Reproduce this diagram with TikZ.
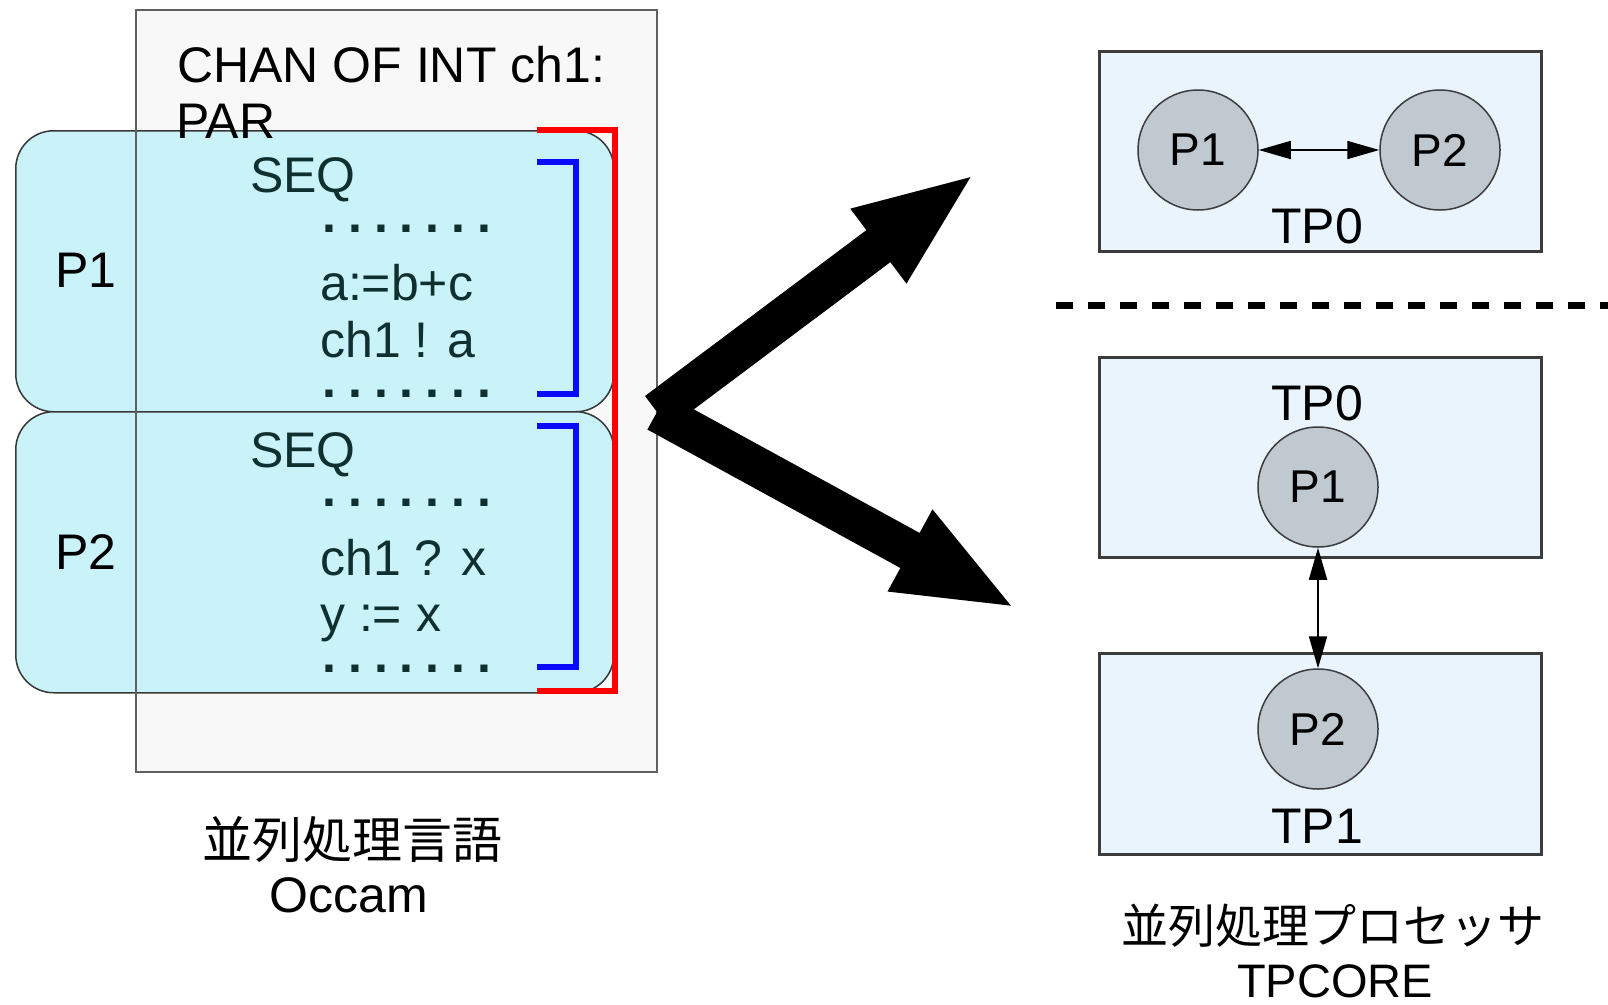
\documentclass[tikz,border=0pt]{standalone}
\usepackage{fontspec}
\setmainfont{Liberation Sans}
\newfontfamily\cjk{Noto Sans CJK JP}
\usetikzlibrary{arrows.meta}

\definecolor{occfill}{RGB}{248,248,248}
\definecolor{occline}{RGB}{96,96,96}
\definecolor{cyanfill}{RGB}{201,242,249}
\definecolor{boxline}{RGB}{56,56,56}
\definecolor{tpfill}{RGB}{234,244,253}
\definecolor{tpline}{RGB}{60,60,60}
\definecolor{circfill}{RGB}{192,200,208}
\definecolor{circline}{RGB}{60,60,60}
\definecolor{codetext}{RGB}{16,48,48}
\definecolor{parred}{RGB}{255,0,0}
\definecolor{seqblue}{RGB}{10,10,255}

% one cell of a row of bold dots
\newcommand\dotcell{\makebox[25.9pt][l]{\bfseries.}}
\newcommand\dotrow{\dotcell\dotcell\dotcell\dotcell\dotcell\dotcell{\bfseries.}}

\begin{document}
\begin{tikzpicture}[x=1pt,y=-1pt,
  occbox/.style={fill=occfill, minimum width=521pt, minimum height=762pt,
    anchor=north west, inner sep=0pt},
  procbox/.style={draw=boxline, line width=1.5pt, fill=cyanfill,
    rounded corners=38pt, minimum width=598pt, minimum height=281pt,
    anchor=north west, inner sep=0pt},
  tpbox/.style={draw=tpline, line width=2.5pt, fill=tpfill,
    minimum width=442pt, minimum height=200pt, anchor=north west, inner sep=0pt},
  proc/.style={circle, draw=circline, line width=1.5pt, fill=circfill,
    minimum size=120pt, inner sep=0pt, font=\fontsize{46}{52}\selectfont},
  lbl/.style={inner sep=0pt, font=\fontsize{50}{60}\selectfont},
  code/.style={lbl, anchor=base west, text=codetext},
  head/.style={lbl, anchor=base west},
  cjklbl/.style={inner sep=0pt, anchor=base, font=\cjk\fontsize{47}{56}\selectfont},
  bracket/.style={line width=6.5pt, miter limit=10},
  bigarrow/.style={line width=40pt, line cap=butt,
    -{Triangle[length=122pt,width=83pt]}},
  link/.style={line width=1.8pt,
    {Triangle[length=32pt,width=18pt]}-{Triangle[length=32pt,width=18pt]}},
  dashline/.style={line width=7pt, dash pattern=on 17pt off 15pt}
]
\useasboundingbox (0,0) rectangle (1608,1004);
\fill[white] (0,0) rectangle (1608,1004);

% ---- Occam program ----
\node[occbox] (occ) at (136,10) {};
\node[procbox] (p1box) at (15,130) {};
\node[procbox] (p2box) at (15,411) {};
\draw[occline, line width=2pt] (occ.north west) rectangle (occ.south east);

% PAR bracket and SEQ brackets
\draw[bracket, parred] (537,130) -- (615,130) -- (615,691) -- (537,691);
\draw[bracket, seqblue, line width=6pt] (537,162) -- (576,162) -- (576,394) -- (537,394);
\draw[bracket, seqblue, line width=6pt] (537,426) -- (576,426) -- (576,667) -- (537,667);

\node[head] (chan) at (177,82) {CHAN OF INT ch1:};
\node[head] (par) at (176,138) {PAR};

\node[code] (seqA) at (250,192) {SEQ};
\node[code] (dotsA1) at (322,232.5) {\dotrow};
\node[code] (asg) at (320,300) {a:=b+c};
\node[code] (send) at (320,357) {ch1 ! a};
\node[code] (dotsA2) at (322,397.5) {\dotrow};
\node[head] (labP1) at (55,287) {P1};

\node[code] (seqB) at (250,467) {SEQ};
\node[code] (dotsB1) at (322,506.5) {\dotrow};
\node[code] (recv) at (320,575) {ch1 ? x};
\node[code] (asgy) at (320,631) {y := x};
\node[code] (dotsB2) at (322,672.5) {\dotrow};
\node[head] (labP2) at (55,569) {P2};

\node[cjklbl, font=\cjk\fontsize{50}{58}\selectfont] (capL1) at (352,858) {並列処理言語};
\node[lbl, anchor=base] (capL2) at (349,912) {Occam};

% ---- mapping arrows ----
\coordinate (fork) at (657,412);
\coordinate (tipA) at (976,173);
\coordinate (tipB) at (1017,609);
\draw[bigarrow] (fork) -- (tipA);
\draw[bigarrow] (fork) -- (tipB);

% ---- single processor ----
\node[tpbox] (tpa) at (1098,50) {};
\node[proc] (c1) at (1198,150) {P1};
\node[proc] (c2) at (1440,150) {P2};
\draw[link] (c1) -- (c2);
\node[lbl, anchor=base] (tpaLbl) at (1317,243) {TP0};

\coordinate (dashL) at (1056,305);
\coordinate (dashR) at (1608,305);
\draw[dashline] (dashL) -- (dashR);

% ---- two processors ----
\node[tpbox] (tpb) at (1098,356) {};
\node[tpbox, minimum height=201pt] (tpc) at (1098,652) {};
\node[lbl, anchor=base] (tpbLbl) at (1317,420) {TP0};
\node[lbl, anchor=base] (tpcLbl) at (1317,843) {TP1};
\node[proc] (d1) at (1318,487) {P1};
\node[proc] (d2) at (1318,729) {P2};
\draw[link] (d1) -- (d2);

\node[cjklbl] (capR1) at (1333,943) {並列処理プロセッサ};
\node[lbl, anchor=base, font=\fontsize{47}{56}\selectfont] (capR2) at (1335,997) {TPCORE};
\end{tikzpicture}
\end{document}
